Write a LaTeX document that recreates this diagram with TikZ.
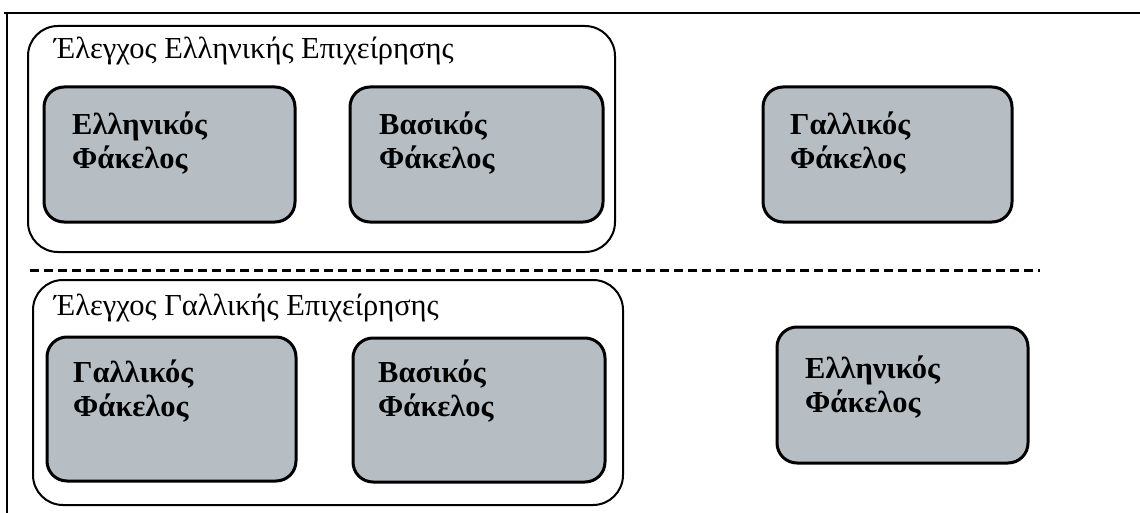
\documentclass[tikz,border=0pt]{standalone}
\usepackage{fontspec}
\setmainfont{Liberation Serif}
\definecolor{boxgray}{RGB}{182,189,195}
\tikzset{
  group/.style={draw=black, line width=2pt, rounded corners=30pt, fill=white, inner sep=0pt},
  folder/.style={draw=black, line width=3pt, rounded corners=20pt, fill=boxgray, inner sep=0pt},
  gtitle/.style={anchor=base west, inner sep=0pt, font=\fontsize{30.5}{34}\selectfont},
  ftext/.style={anchor=base west, inner sep=0pt, font=\fontsize{30.5}{34}\selectfont\bfseries},
  frame/.style={line width=2.5pt, black},
  sep/.style={line width=3pt, black, dash pattern=on 9pt off 5pt}
}
\newcommand{\twolines}[2]{\begin{tabular}[t]{@{}l@{}}#1\\#2\end{tabular}}
\begin{document}
\begin{tikzpicture}[x=1pt,y=-1pt]
\useasboundingbox (0,0) rectangle (1140,513);
\fill[white] (0,0) rectangle (1140,513);
% outer frame
\draw[frame] (4,13) -- (1140,13);
\draw[frame] (7,13) -- (7,513);
% group 1
\node[group, minimum width=587pt, minimum height=226pt] (g1) at (321.5,139) {};
\node[gtitle] (t1) at (54,59) {Έλεγχος Ελληνικής Επιχείρησης};
\node[folder, minimum width=251pt, minimum height=135pt] (a) at (169.5,154.5) {};
\node[folder, minimum width=253pt, minimum height=135pt] (b) at (476.5,154.5) {};
\node[ftext] (ta) at (72,135) {\twolines{Ελληνικός}{Φάκελος}};
\node[ftext] (tb) at (379,135) {\twolines{Βασικός}{Φάκελος}};
\node[folder, minimum width=249pt, minimum height=135pt] (c) at (887.5,154.5) {};
\node[ftext] (tc) at (790,135) {\twolines{Γαλλικός}{Φάκελος}};
% separator
\coordinate (s1) at (30,270);
\coordinate (s2) at (1040,270);
\draw[sep] (s1) -- (s2);
% group 2
\node[group, minimum width=590pt, minimum height=225pt] (g2) at (328,392.5) {};
\node[gtitle] (t2) at (54,315) {Έλεγχος Γαλλικής Επιχείρησης};
\node[folder, minimum width=249pt, minimum height=144pt] (d) at (171.5,409) {};
\node[folder, minimum width=252pt, minimum height=144pt] (e) at (479,410) {};
\node[ftext] (td) at (73,382) {\twolines{Γαλλικός}{Φάκελος}};
\node[ftext] (te) at (378,382) {\twolines{Βασικός}{Φάκελος}};
\node[folder, minimum width=251pt, minimum height=136pt] (f) at (902.5,395) {};
\node[ftext] (tf) at (805,378) {\twolines{Ελληνικός}{Φάκελος}};
\end{tikzpicture}
\end{document}
